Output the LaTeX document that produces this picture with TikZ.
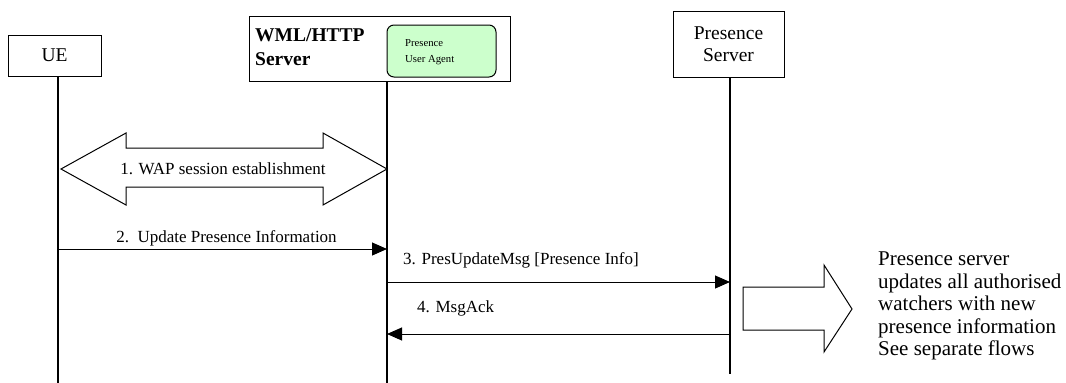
\documentclass[tikz,border=0pt]{standalone}
\usepackage{fontspec}
\setmainfont{Liberation Serif}
\usetikzlibrary{arrows.meta}
\definecolor{agentgreen}{RGB}{204,255,204}
\tikzset{
  entity/.style={draw, line width=1pt, inner sep=0pt, align=center, font=\fontsize{19.5}{22}\selectfont},
  lifeline/.style={line width=1.1pt},
  msg/.style={line width=1pt, -{Triangle[length=15pt,width=13pt]}},
  msglabel/.style={font=\fontsize{17}{20}\selectfont, inner sep=0pt},
  blockarrow/.style={draw, line width=1pt, fill=white},
}
\begin{document}
\begin{tikzpicture}[x=1pt,y=-1pt]
\useasboundingbox (0,0) rectangle (1066,383);
% entities
\node[entity, minimum width=93pt, minimum height=41pt] (ue) at (54.5,55.5) {UE};
\node[draw, line width=1pt, minimum width=261pt, minimum height=65pt, inner sep=0pt] (wml) at (379.5,48.5) {};
\node[font=\bfseries\fontsize{19.5}{24}\selectfont, align=left, anchor=north west, inner sep=0pt] (wmltext) at (255,28) {WML/HTTP\\Server};
\node[draw, line width=1pt, fill=agentgreen, rounded corners=7pt, minimum width=109pt, minimum height=52pt, inner sep=0pt] (agent) at (441.5,51) {};
\node[font=\fontsize{10.7}{16}\selectfont, align=left, anchor=west, inner sep=0pt] (agenttext) at (405,52) {Presence\\User Agent};
\node[entity, minimum width=111pt, minimum height=66pt] (ps) at (728.5,44) {Presence\\Server};
% lifeline ends
\coordinate (uebot) at (58,383);
\coordinate (wmlbot) at (387,383);
\coordinate (psbot) at (730,374);
\draw[lifeline] (ue.south -| uebot) -- (uebot);
\draw[lifeline] (wml.south -| wmlbot) -- (wmlbot);
\draw[lifeline] (ps.south -| psbot) -- (psbot);
% 1. block double arrow
\draw[blockarrow] (61,169) -- (126,133) -- (126,148) -- (323,148) -- (323,133) -- (387,169)
  -- (323,205) -- (323,187) -- (126,187) -- (126,205) -- cycle;
\node[msglabel] (l1) at (223,169) {1. WAP session establishment};
% messages
\coordinate (m2s) at (58,249);
\coordinate (m2e) at (387,249);
\draw[msg] (m2s) -- (m2e);
\node[msglabel] (l2) at (226.5,238) {2.\ \ Update Presence Information};
\coordinate (m3s) at (387,282);
\coordinate (m3e) at (730,282);
\draw[msg] (m3s) -- (m3e);
\node[msglabel, anchor=west] (l3) at (403,260) {3. PresUpdateMsg [Presence Info]};
\coordinate (m4s) at (730,334);
\coordinate (m4e) at (387,334);
\draw[msg] (m4s) -- (m4e);
\node[msglabel, anchor=west] (l4) at (417,308) {4. MsgAck};
% big right arrow
\draw[blockarrow] (743,287) -- (824,287) -- (824,265) -- (852,309) -- (824,352) -- (824,330) -- (743,330) -- cycle;
\node[font=\fontsize{21}{22.5}\selectfont, align=left, anchor=north west, inner sep=0pt] (note) at (878,252)
  {Presence server\\updates all authorised\\watchers with new\\presence information\\See separate flows};
\end{tikzpicture}
\end{document}
